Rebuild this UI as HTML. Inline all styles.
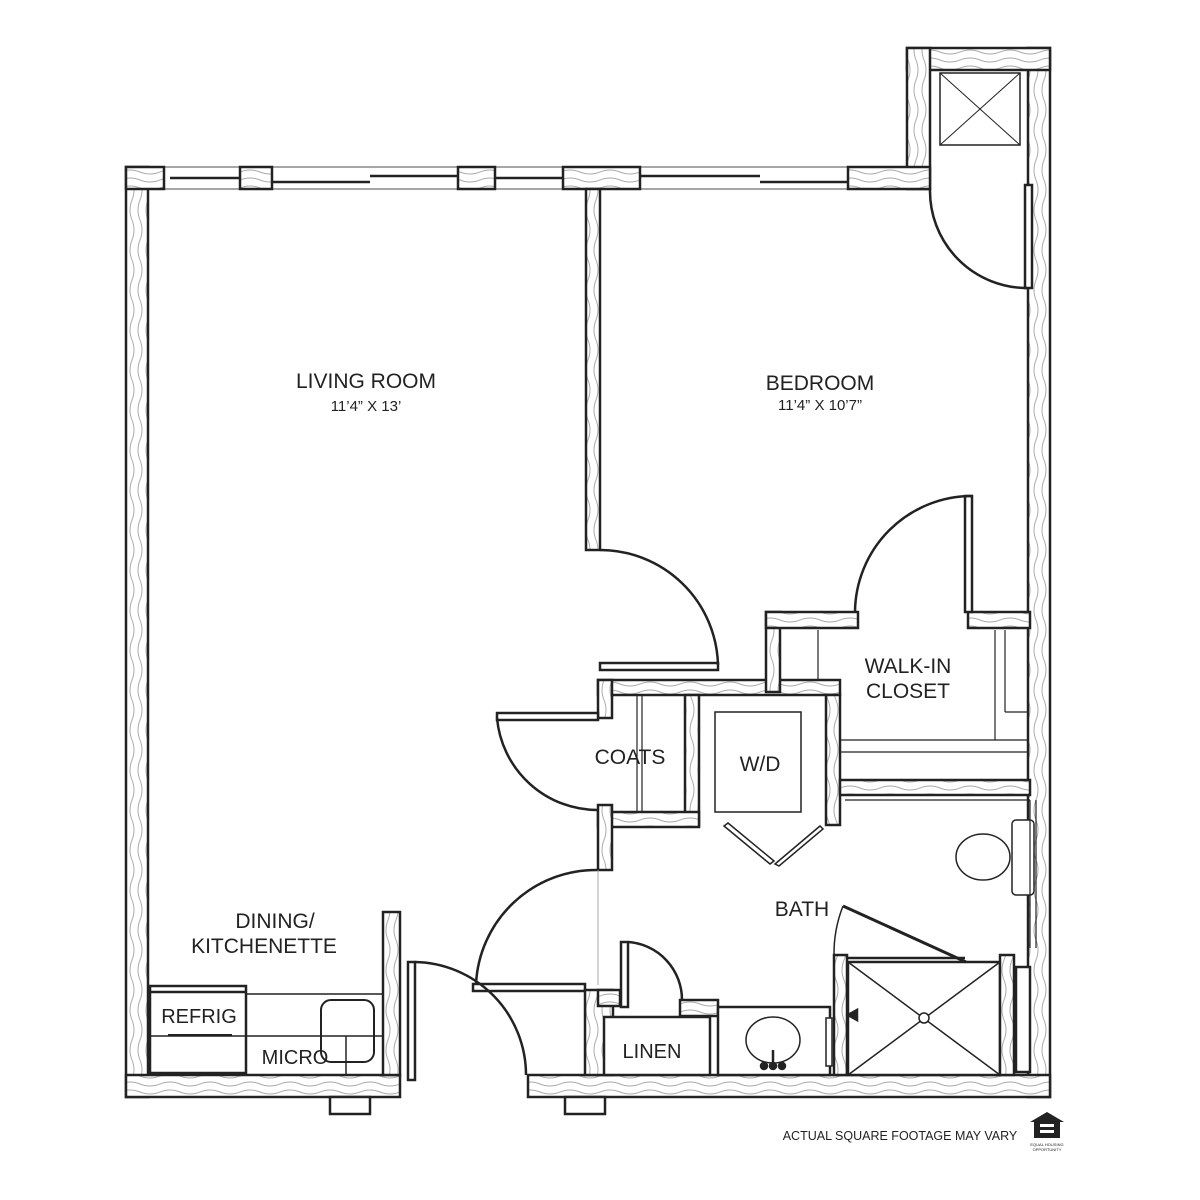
<!DOCTYPE html>
<html><head><meta charset="utf-8"><style>
html,body{margin:0;padding:0;background:#fff;}
svg{display:block}
text{font-family:"Liberation Sans",sans-serif;fill:#222;}
</style></head><body>
<svg width="1200" height="1200" viewBox="0 0 1200 1200" xmlns="http://www.w3.org/2000/svg">
<defs>
<pattern id="h" width="40" height="8" patternUnits="userSpaceOnUse">
<rect width="40" height="8" fill="#fff"/>
<path d="M0 4 Q10 0 20 4 T40 4" fill="none" stroke="#aaa" stroke-width="1"/>
</pattern>
<pattern id="v" width="8" height="40" patternUnits="userSpaceOnUse">
<rect width="8" height="40" fill="#fff"/>
<path d="M4 0 Q0 10 4 20 T4 40" fill="none" stroke="#aaa" stroke-width="1"/>
</pattern>
</defs>
<g stroke="#222" stroke-width="2.5">
<!-- outer walls -->
<rect x="126" y="167" width="22" height="930" fill="url(#v)"/>
<rect x="1028" y="48" width="22" height="1049" fill="url(#v)"/>
<rect x="907" y="48" width="143" height="22" fill="url(#h)"/>
<rect x="907" y="48" width="23" height="141" fill="url(#v)"/>
<rect x="126" y="1075" width="274" height="22" fill="url(#h)"/>
<rect x="528" y="1075" width="522" height="22" fill="url(#h)"/>
<rect x="330" y="1097" width="40" height="17" fill="#fff"/>
<rect x="565" y="1097" width="40" height="17" fill="#fff"/>
</g>
<!-- top wall with windows -->
<g stroke="#888" stroke-width="1.5">
<line x1="126" y1="167" x2="930" y2="167"/><line x1="126" y1="189" x2="930" y2="189"/>
</g>
<g stroke="#222" stroke-width="2.5">
<line x1="170" y1="178" x2="240" y2="178"/><line x1="272" y1="182" x2="370" y2="182"/>
<line x1="370" y1="176" x2="458" y2="176"/><line x1="495" y1="178" x2="563" y2="178"/>
<line x1="640" y1="176" x2="760" y2="176"/><line x1="760" y1="182" x2="848" y2="182"/>
<rect x="126" y="167" width="38" height="22" fill="url(#h)"/>
<rect x="240" y="167" width="32" height="22" fill="url(#h)"/>
<rect x="458" y="167" width="37" height="22" fill="url(#h)"/>
<rect x="563" y="167" width="77" height="22" fill="url(#h)"/>
<rect x="848" y="167" width="82" height="22" fill="url(#h)"/>
<!-- partition living/bed -->
<rect x="586" y="189" width="14" height="361" fill="url(#v)"/>
<!-- closet door top right -->
<rect x="1025" y="185" width="7" height="103" fill="#fff"/>
<path d="M930 189 A97 97 0 0 0 1027 288" fill="none"/>
<!-- X box -->
<rect x="940" y="73" width="80" height="72" fill="#fff" stroke-width="1.5"/>
<line x1="940" y1="73" x2="1020" y2="145" stroke-width="1"/><line x1="1020" y1="73" x2="940" y2="145" stroke-width="1"/>
<!-- living-bath door -->
<rect x="600" y="663" width="118" height="7" fill="#fff"/>
<path d="M600 550 A118 118 0 0 1 718 665" fill="none"/>
<!-- walk-in closet walls -->
<rect x="598" y="680" width="242" height="15" fill="url(#h)"/>
<rect x="766" y="612" width="14" height="80" fill="url(#v)"/>
<rect x="766" y="612" width="92" height="16" fill="url(#h)"/>
<rect x="968" y="612" width="62" height="16" fill="url(#h)"/>
<rect x="965" y="496" width="7" height="116" fill="#fff"/>
<path d="M855 612 A117 117 0 0 1 972 496" fill="none"/>
<rect x="826" y="695" width="14" height="130" fill="url(#v)"/>
<rect x="840" y="780" width="190" height="15" fill="url(#h)"/>
<rect x="685" y="695" width="14" height="130" fill="url(#v)"/>
<!-- closet shelves -->
<g stroke-width="1.2"><line x1="818" y1="630" x2="818" y2="680"/><line x1="840" y1="740" x2="1028" y2="740"/><line x1="995" y1="630" x2="995" y2="740"/><line x1="840" y1="752" x2="1028" y2="752"/><line x1="1005" y1="630" x2="1005" y2="712"/><line x1="1005" y1="712" x2="1028" y2="712"/></g>
<!-- W/D -->
<rect x="715" y="712" width="86" height="100" fill="#fff" stroke-width="1.5"/>
<path d="M724 826 L770 864 L774 861 L728 823 Z" fill="#fff" stroke-width="1.5"/>
<path d="M820 826 L775 864 L779 866 L823 829 Z" fill="#fff" stroke-width="1.5"/>
<!-- coats -->
<rect x="598" y="680" width="14" height="38" fill="url(#v)"/>
<rect x="497" y="713" width="101" height="7" fill="#fff"/>
<path d="M497 718 A101 101 0 0 0 598 810" fill="none"/>
<rect x="598" y="812" width="101" height="15" fill="url(#h)"/>
<rect x="598" y="805" width="14" height="65" fill="url(#v)"/>
<g stroke-width="1.2"><line x1="637" y1="695" x2="637" y2="812"/><line x1="642" y1="695" x2="642" y2="812"/></g>
<!-- entry to bath door -->
<rect x="473" y="984" width="112" height="7" fill="#fff"/>
<path d="M598 870 A120 120 0 0 0 476 984" fill="none"/>
<line x1="598" y1="870" x2="598" y2="985" stroke="#aaa" stroke-width="1"/>
<!-- linen -->
<rect x="585" y="990" width="28" height="85" fill="url(#v)"/>
<rect x="598" y="990" width="22" height="16" fill="url(#h)"/>
<rect x="680" y="1000" width="38" height="16" fill="url(#h)"/>
<rect x="604" y="1017" width="106" height="58" fill="#fff"/>
<rect x="621" y="942" width="7" height="65" fill="#fff"/>
<path d="M628 942 A58 58 0 0 1 682 1000" fill="none"/>
<!-- vanity -->
<rect x="718" y="1007" width="112" height="68" fill="#fff"/>
<ellipse cx="773" cy="1040" rx="27" ry="23" fill="#fff" stroke-width="1.5"/>
<line x1="773" y1="1050" x2="773" y2="1063"/>
<circle cx="764" cy="1066" r="3" fill="#222"/><circle cx="773" cy="1066" r="3" fill="#222"/><circle cx="782" cy="1066" r="3" fill="#222"/>
<rect x="826" y="1018" width="6" height="48" fill="#fff" stroke-width="1.5"/>
<!-- shower -->
<rect x="834" y="955" width="13" height="120" fill="url(#v)"/>
<rect x="848" y="962" width="152" height="113" fill="#fff"/>
<line x1="848" y1="962" x2="1000" y2="1075" stroke-width="1.5"/><line x1="1000" y1="962" x2="848" y2="1075" stroke-width="1.5"/>
<circle cx="924" cy="1018" r="5" fill="#fff" stroke-width="1.5"/>
<rect x="1000" y="955" width="14" height="120" fill="url(#v)"/>
<rect x="1016" y="967" width="14" height="105" fill="#fff"/>
<line x1="848" y1="958" x2="965" y2="958"/>
<line x1="843" y1="906" x2="966" y2="962" stroke-width="3"/>
<path d="M843 906 A130 130 0 0 0 834 955" fill="none" stroke-width="1.5"/>
<path d="M848 1015 L857 1010 L857 1020 Z" fill="#222"/>
<!-- toilet -->
<ellipse cx="983" cy="857" rx="27" ry="23" fill="#fff" stroke-width="1.5"/>
<rect x="1012" y="820" width="22" height="75" rx="4" fill="#fff" stroke-width="1.5"/>
<g stroke-width="1.2"><line x1="845" y1="800" x2="1030" y2="800"/><line x1="1030" y1="800" x2="1030" y2="948"/><line x1="1036" y1="800" x2="1036" y2="948"/></g>
<!-- kitchen -->
<rect x="383" y="912" width="17" height="163" fill="url(#v)"/>
<rect x="408" y="962" width="7" height="118" fill="#fff"/>
<path d="M415 962 A113 113 0 0 1 526 1075" fill="none"/>
<rect x="150" y="986" width="96" height="87" fill="#fff"/>
<line x1="150" y1="992" x2="246" y2="992"/>
<g stroke-width="1.5"><line x1="150" y1="1036" x2="383" y2="1036"/><line x1="246" y1="994" x2="383" y2="994"/><line x1="168" y1="1035" x2="232" y2="1035" stroke-width="2"/></g>
<rect x="321" y="1000" width="53" height="62" rx="10" fill="none" stroke-width="2"/>
<line x1="346" y1="1036" x2="346" y2="1075" stroke-width="1.5"/>
</g>
<!-- labels -->
<g font-size="21" text-anchor="middle">
<text x="366" y="388">LIVING ROOM</text>
<text x="366" y="411" font-size="15">11’4” X 13’</text>
<text x="820" y="390">BEDROOM</text>
<text x="820" y="410" font-size="15">11’4” X 10’7”</text>
<text x="908" y="673">WALK-IN</text>
<text x="908" y="698">CLOSET</text>
<text x="630" y="764">COATS</text>
<text x="760" y="771">W/D</text>
<text x="802" y="916">BATH</text>
<text x="275" y="928">DINING/</text>
<text x="264" y="953">KITCHENETTE</text>
<text x="199" y="1023" font-size="20">REFRIG</text>
<text x="295" y="1064" font-size="20">MICRO</text>
<text x="652" y="1058" font-size="20">LINEN</text>
<text x="900" y="1140" font-size="12.5">ACTUAL SQUARE FOOTAGE MAY VARY</text>
</g>
<path d="M1030 1122 L1047 1112 L1064 1122 L1060 1122 L1060 1138 L1034 1138 L1034 1122 Z" fill="#222"/>
<rect x="1040" y="1124" width="14" height="3" fill="#fff"/><rect x="1040" y="1130" width="14" height="3" fill="#fff"/>
<text x="1047" y="1146" font-size="4" text-anchor="middle">EQUAL HOUSING</text>
<text x="1047" y="1151" font-size="4" text-anchor="middle">OPPORTUNITY</text>
</svg>
</body></html>
